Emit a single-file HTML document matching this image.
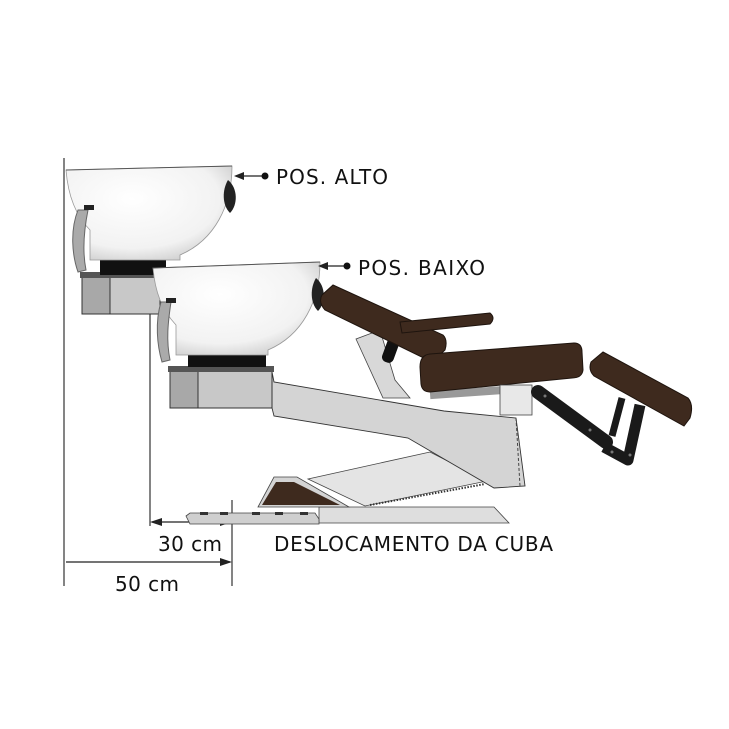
<!DOCTYPE html>
<html><head><meta charset="utf-8"><style>
html,body{margin:0;padding:0;background:#fff;}
svg{display:block;}
text{font-family:"DejaVu Sans","Liberation Sans",sans-serif;fill:#111;}
</style></head><body>
<svg width="729" height="729" viewBox="0 0 729 729" xmlns="http://www.w3.org/2000/svg">
<defs>
<radialGradient id="bowl" cx="0.4" cy="0.35" r="0.75">
<stop offset="0" stop-color="#ffffff"/><stop offset="0.7" stop-color="#f2f2f2"/><stop offset="1" stop-color="#c8c8c8"/>
</radialGradient>
</defs>
<!-- dimension lines -->
<line x1="64" y1="158" x2="64" y2="586" stroke="#333" stroke-width="1.2"/>
<line x1="150" y1="300" x2="150" y2="526" stroke="#333" stroke-width="1.2"/>
<line x1="232" y1="500" x2="232" y2="586" stroke="#333" stroke-width="1.2"/>
<line x1="152" y1="522" x2="230" y2="522" stroke="#222" stroke-width="1.2"/>
<polygon points="150,522 162,518 162,526" fill="#222"/>
<polygon points="232,522 220,518 220,526" fill="#222"/>
<line x1="66" y1="562" x2="230" y2="562" stroke="#222" stroke-width="1.2"/>
<polygon points="232,562 220,558 220,566" fill="#222"/>
<text x="158" y="551" font-size="20" textLength="64">30 cm</text>
<text x="115" y="591" font-size="20" textLength="64">50 cm</text>
<text x="274" y="551" font-size="20" textLength="279">DESLOCAMENTO DA CUBA</text>

<!-- upper sink -->
<rect x="82" y="276" width="78" height="38" fill="#c8c8c8" stroke="#333"/>
<rect x="82" y="276" width="28" height="38" fill="#a8a8a8" stroke="#333"/>
<rect x="80" y="272" width="82" height="6" fill="#555"/>
<rect x="100" y="255" width="66" height="20" fill="#111"/>
<path d="M66,170 L232,166 C232,205 215,240 180,255 L180,260 L90,260 L90,230 C75,215 68,195 66,170 Z" fill="url(#bowl)" stroke="#999" stroke-width="0.8"/>
<line x1="66" y1="170" x2="232" y2="166" stroke="#555" stroke-width="1"/>
<path d="M228,180 C238,188 238,205 230,213 C222,205 222,190 228,180 Z" fill="#222"/>
<path d="M78,210 C70,230 72,255 78,272 L86,270 C82,250 84,230 88,210 Z" fill="#aaa" stroke="#666"/>
<rect x="84" y="205" width="10" height="5" fill="#222"/>
<line x1="236" y1="176" x2="265" y2="176" stroke="#222" stroke-width="1.2"/>
<polygon points="234,176 244,172 244,180" fill="#222"/>
<circle cx="265" cy="176" r="3.5" fill="#111"/>
<text x="276" y="184" font-size="20" textLength="112">POS. ALTO</text>

<!-- chair frame -->
<polygon points="308,479 430,452 487,481 365,506" fill="#e4e4e4" stroke="#444" stroke-width="0.8"/>
<polygon points="356,339 383,398 410,398 395,380 380,330" fill="#d8d8d8" stroke="#444" stroke-width="0.8"/>
<polygon points="272,372 274,382 444,411 516,418 525,486 494,488 408,438 274,416 272,408" fill="#d4d4d4" stroke="#333" stroke-width="0.9"/>
<line x1="516" y1="418" x2="520" y2="486" stroke="#444" stroke-dasharray="3,2"/>
<line x1="370" y1="505" x2="485" y2="484" stroke="#333" stroke-width="2" stroke-dasharray="1.5,1.5"/>
<polygon points="319,507 494,507 509,523 319,523" fill="#dedede" stroke="#444" stroke-width="0.8"/>
<polygon points="186,516 190,513 315,513 319,519 319,524 190,524" fill="#cfcfcf" stroke="#444" stroke-width="0.8"/>
<g fill="#333"><rect x="200" y="512" width="8" height="3"/><rect x="220" y="512" width="8" height="3"/><rect x="252" y="512" width="8" height="3"/><rect x="275" y="512" width="8" height="3"/><rect x="300" y="512" width="8" height="3"/></g>
<polygon points="258,507 274,477 297,477 349,507" fill="#d4d4d4" stroke="#444" stroke-width="0.8"/>
<polygon points="262,505 276,482 294,482 340,505" fill="#3e2a1e"/>

<!-- lower sink -->
<rect x="170" y="370" width="102" height="38" fill="#c8c8c8" stroke="#333"/>
<rect x="170" y="370" width="28" height="38" fill="#a8a8a8" stroke="#333"/>
<rect x="168" y="366" width="106" height="6" fill="#555"/>
<rect x="188" y="345" width="78" height="22" fill="#111"/>
<path d="M153,268 L320,262 C320,300 303,335 268,350 L268,355 L176,355 L176,325 C162,310 155,292 153,268 Z" fill="url(#bowl)" stroke="#999" stroke-width="0.8"/>
<line x1="153" y1="268" x2="320" y2="262" stroke="#555" stroke-width="1"/>
<path d="M316,278 C326,286 326,303 318,311 C310,303 310,288 316,278 Z" fill="#222"/>
<path d="M161,302 C155,322 157,345 162,362 L170,360 C166,340 168,322 171,302 Z" fill="#aaa" stroke="#666"/>
<rect x="166" y="298" width="10" height="5" fill="#222"/>
<line x1="320" y1="266" x2="347" y2="266" stroke="#222" stroke-width="1.2"/>
<polygon points="318,266 328,262 328,270" fill="#222"/>
<circle cx="347" cy="266" r="3.5" fill="#111"/>
<text x="358" y="275" font-size="20" textLength="127">POS. BAIXO</text>

<!-- backrest -->
<rect x="385" y="335" width="12" height="28" rx="5" fill="#111" transform="rotate(20 391 349)"/>
<path d="M333,285 L443,335 Q448,340 445,350 L432,362 L325,310 Q318,302 322,295 Z" fill="#3e2a1e" stroke="#1e140e"/>
<path d="M400,322 L490,313 Q496,318 490,324 L402,333 Z" fill="#3e2a1e" stroke="#1e140e"/>

<!-- seat -->
<rect x="430" y="388" width="90" height="8" fill="#999" transform="rotate(-4 475 392)"/>
<path d="M420,367 Q420,355 430,354 L574,343 Q582,343 582,352 L583,370 Q582,378 572,378 L430,392 Q422,392 421,384 Z" fill="#3e2a1e" stroke="#1e140e"/>
<rect x="500" y="385" width="32" height="30" fill="#e8e8e8" stroke="#444" stroke-width="0.8"/>

<!-- leg linkage -->
<path d="M538,392 L606,442" stroke="#1a1a1a" stroke-width="14" stroke-linecap="round" fill="none"/>
<path d="M604,447 L628,460 L640,405" stroke="#1a1a1a" stroke-width="11" stroke-linejoin="round" fill="none"/>
<path d="M612,436 L622,398" stroke="#1a1a1a" stroke-width="7" fill="none"/>
<g fill="#777"><circle cx="545" cy="396" r="1.5"/><circle cx="590" cy="430" r="1.5"/><circle cx="612" cy="452" r="1.5"/><circle cx="630" cy="455" r="1.5"/></g>
<!-- legrest -->
<path d="M603,352 L688,398 Q694,405 690,418 L684,426 L594,376 Q588,370 591,362 Z" fill="#3e2a1e" stroke="#1e140e"/>
</svg>
</body></html>
